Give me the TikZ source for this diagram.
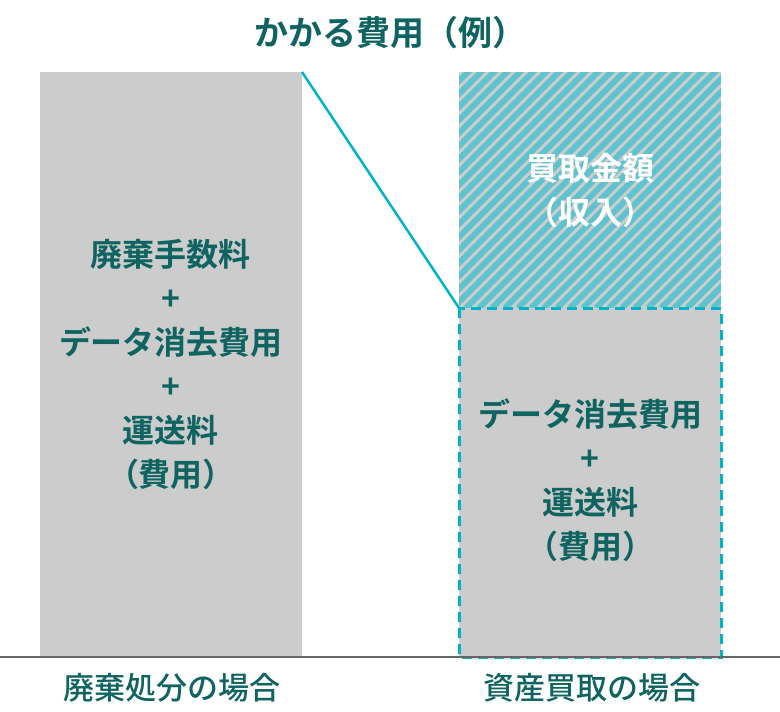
\documentclass[tikz,border=0pt]{standalone}
\usepackage{fontspec}
\setmainfont{Noto Sans CJK JP Medium}
\newfontfamily\jpb{Noto Sans CJK JP Bold}
\definecolor{tealtxt}{HTML}{0F6462}
\definecolor{barg}{HTML}{CCCCCC}
\definecolor{cyanl}{HTML}{00B4C8}
\definecolor{hatchc}{HTML}{5EC3CF}
\begin{document}
\begin{tikzpicture}[x=1pt,y=-1pt,
  lbl/.style={text=tealtxt,font=\fontsize{32}{44}\selectfont\jpb,align=center},
  captxt/.style={text=tealtxt,font=\fontsize{31}{34}\selectfont}]
\useasboundingbox (0,0) rectangle (780,712);
% left bar
\fill[barg] (40,72) rectangle (302,657);
\node[lbl] (l) at (171,364) {廃棄手数料\\+\\データ消去費用\\+\\運送料\\（費用）};
% right hatched
\fill[barg] (459,72) rectangle (721,308);
\begin{scope}
\clip (459,72) rectangle (721,308);
\foreach \i in {0,13,...,540}{
  \draw[hatchc,line width=6pt] (459+\i-240,308) -- (459+\i,68);
}
\end{scope}
\node[text=white,font=\fontsize{32}{44}\selectfont\jpb,align=center] (h) at (590,190) {買取金額\\（収入）};
% right dashed box
\fill[barg] (459,308) rectangle (721,657);
\draw[cyanl,line width=3pt,dash pattern=on 10pt off 6pt] (459,308) rectangle (721,657);
\node[lbl] (r) at (590,480) {データ消去費用\\+\\運送料\\（費用）};
% connector
\coordinate (a) at (302,72);
\coordinate (b) at (459,308);
\draw[cyanl,line width=2.5pt] (a) -- (b);
% baseline
\draw[gray!80!black,line width=1.2pt] (0,657) -- (780,657);
\node[text=tealtxt,font=\fontsize{34}{38}\selectfont\jpb] (t) at (390,33) {かかる費用（例）};
\node[captxt] (c1) at (172,688) {廃棄処分の場合};
\node[captxt] (c2) at (592,688) {資産買取の場合};
\end{tikzpicture}
\end{document}
